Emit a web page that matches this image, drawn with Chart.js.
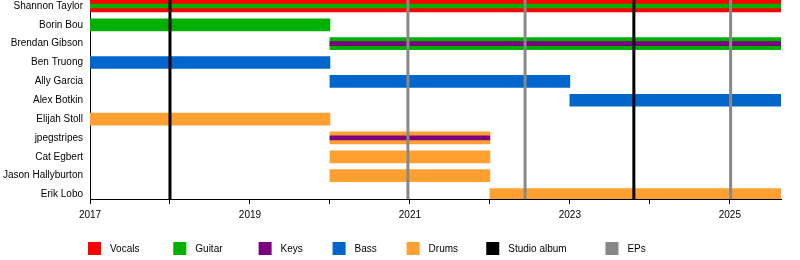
<!DOCTYPE html>
<html>
<head>
<meta charset="utf-8">
<style>
  html, body { margin: 0; padding: 0; background: #fff; }
  #wrap { width: 800px; height: 260px; }
</style>
</head>
<body>
<div id="wrap"><canvas id="timeline" width="800" height="260"></canvas></div>
<script src="https://cdn.jsdelivr.net/npm/chart.js@4.4.1/dist/chart.umd.min.js"></script>
<script>
// band members, top to bottom
const members = [
  'Shannon Taylor', 'Borin Bou', 'Brendan Gibson', 'Ben Truong', 'Ally Garcia',
  'Alex Botkin', 'Elijah Stoll', 'jpegstripes', 'Cat Egbert', 'Jason Hallyburton', 'Erik Lobo',
];

const START = 2017;
const END = 2025.64;

// [row, from, to]
const vocals       = [[0, 2017, END]];
const guitar       = [[1, 2017, 2020], [2, 2020, END]];
const guitarStripe = [[0, 2017, END]];
const keysStripe   = [[2, 2020, END], [7, 2020, 2022]];
const bass         = [[3, 2017, 2020], [4, 2020, 2023], [5, 2023, END]];
const drums        = [[6, 2017, 2020], [7, 2020, 2022], [8, 2020, 2022], [9, 2020, 2022], [10, 2022, END]];

// release dates
const studioAlbums = [2018.0, 2023.8];
const eps          = [2020.975, 2022.44, 2025.01];

const colors = {
  vocals: '#FF0000',
  guitar: '#00B000',
  keys:   '#7A0080',
  bass:   '#0066CC',
  drums:  '#FFA030',
  album:  '#000000',
  ep:     '#888888',
};

const legendLabels = ['Vocals', 'Guitar', 'Keys', 'Bass', 'Drums', 'Studio album', 'EPs'];
const legendColors = [colors.vocals, colors.guitar, colors.keys, colors.bass, colors.drums, colors.album, colors.ep];

const FONT = '"Liberation Sans", Arial, sans-serif';

const toPoints = (periods) => periods.map(([row, from, to]) => ({ x: [from, to], y: row }));

// vertical release lines, drawn over the bars
const markerLines = {
  id: 'markerLines',
  afterDatasetsDraw(chart) {
    const { ctx, chartArea, scales: { x } } = chart;
    ctx.save();
    ctx.lineWidth = 3;
    [[studioAlbums, colors.album], [eps, colors.ep]].forEach(([years, color]) => {
      ctx.strokeStyle = color;
      years.forEach((year) => {
        const px = x.getPixelForValue(year);
        ctx.beginPath();
        ctx.moveTo(px, chartArea.top);
        ctx.lineTo(px, chartArea.bottom);
        ctx.stroke();
      });
    });
    ctx.restore();
  },
};

// legend row under the axis
const bottomLegend = {
  id: 'bottomLegend',
  afterDraw(chart) {
    const { ctx, chartArea } = chart;
    let left = chartArea.left - 2;
    const top = chart.height - 18;
    ctx.save();
    ctx.font = '10px ' + FONT;
    ctx.textBaseline = 'middle';
    legendLabels.forEach((label, i) => {
      ctx.fillStyle = legendColors[i];
      ctx.fillRect(left, top, 13, 13);
      ctx.fillStyle = '#000';
      ctx.fillText(label, left + 22, top + 7);
      left += 51.4 + 5.65 * label.length;
    });
    ctx.restore();
  },
};

new Chart(document.getElementById('timeline'), {
  type: 'bar',
  data: {
    datasets: [
      { label: 'Guitar stripe', data: toPoints(guitarStripe), backgroundColor: colors.guitar, barThickness: 4 },
      { label: 'Keys stripe',   data: toPoints(keysStripe),   backgroundColor: colors.keys,   barThickness: 4 },
      { label: 'Vocals',        data: toPoints(vocals),       backgroundColor: colors.vocals, barThickness: 12 },
      { label: 'Guitar',        data: toPoints(guitar),       backgroundColor: colors.guitar, barThickness: 12 },
      { label: 'Bass',          data: toPoints(bass),         backgroundColor: colors.bass,   barThickness: 12 },
      { label: 'Drums',         data: toPoints(drums),        backgroundColor: colors.drums,  barThickness: 12 },
    ],
  },
  options: {
    indexAxis: 'y',
    responsive: false,
    animation: false,
    devicePixelRatio: 1,
    layout: { padding: { top: 0, right: 19, bottom: 34, left: 0 } },
    datasets: { bar: { grouped: false, borderWidth: 0, borderSkipped: false } },
    plugins: {
      legend: { display: false },
      tooltip: { enabled: false },
    },
    scales: {
      x: {
        type: 'linear',
        min: START,
        max: END,
        grid: { drawOnChartArea: false, drawTicks: true, tickLength: 5, color: '#000' },
        border: { color: '#000' },
        ticks: {
          stepSize: 1,
          includeBounds: false,
          autoSkip: false,
          maxRotation: 0,
          padding: 5,
          color: '#000',
          font: { family: FONT, size: 10 },
          callback: (v) => (v % 2 === 1 ? String(v) : ''),
        },
      },
      y: {
        type: 'linear',
        reverse: true,
        offset: false,
        min: -0.317,
        max: 10.238,
        afterBuildTicks: (scale) => {
          scale.ticks = members.map((_, i) => ({ value: i }));
        },
        afterFit: (scale) => {
          scale.width = 90;
          scale.paddingTop = 0;
          scale.paddingBottom = 0;
        },
        grid: { drawOnChartArea: false, drawTicks: false, offset: false },
        border: { color: '#000' },
        ticks: {
          autoSkip: false,
          padding: 7,
          color: '#000',
          font: { family: FONT, size: 10 },
          callback: (v) => members[v] ?? '',
        },
      },
    },
  },
  plugins: [markerLines, bottomLegend],
});
</script>
</body>
</html>
